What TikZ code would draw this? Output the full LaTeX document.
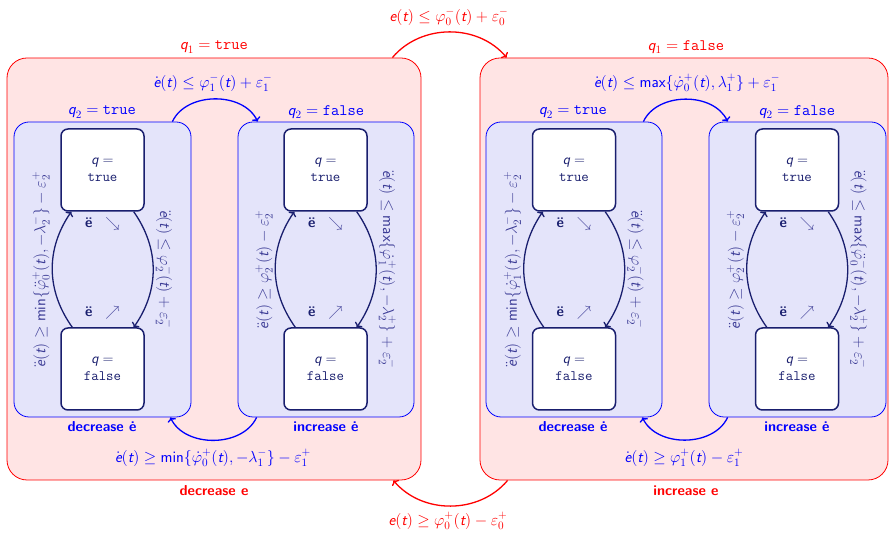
\RequirePackage{fix-cm}
\documentclass[tikz,border=0pt]{standalone}
\usepackage{amsmath,amssymb}
\usepackage{fontspec}
\usetikzlibrary{arrows.meta}
\definecolor{navy}{RGB}{25,30,110}
\definecolor{navyl}{RGB}{60,60,150}
\definecolor{outerfill}{RGB}{255,228,228}
\definecolor{innerfill}{RGB}{228,228,250}
\newcommand\me{\mbox{\sffamily\itshape e}}
\newcommand\mt{\mbox{\sffamily\itshape t}}
\newcommand\mq{\mbox{\sffamily\itshape q}}
\newcommand\smin{\mbox{\sffamily min}}
\newcommand\smax{\mbox{\sffamily max}}
\tikzset{
  every node/.style={font=\fontsize{16}{19}\selectfont\sffamily},
  outerbox/.style={draw=red, line width=0.8pt, fill=outerfill, rounded corners=20pt, minimum height=422pt, inner sep=0pt},
  innerbox/.style={draw=blue, line width=0.8pt, fill=innerfill, rounded corners=15pt, minimum width=176pt, minimum height=295pt, inner sep=0pt},
  statebox/.style={draw=navy, line width=1.5pt, fill=white, rounded corners=7pt, minimum width=83pt, minimum height=82pt, inner sep=0pt, align=center, text=navy, font=\fontsize{14.4}{17}\selectfont\sffamily},
  redarr/.style={draw=red, line width=1.3pt, -{To[length=4pt,width=9pt]}},
  bluearr/.style={draw=blue, line width=1.3pt, -{To[length=4pt,width=9pt]}},
  navyarr/.style={draw=navy, line width=1.3pt, -{To[length=4pt,width=9pt]}},
  rotL/.style={text=navyl, midway, rotate=90, anchor=south, inner sep=2pt},
  rotR/.style={text=navyl, midway, rotate=-90, anchor=south, inner sep=2pt},
  boldlab/.style={font=\fontsize{14.4}{17}\selectfont\sffamily\bfseries},
  eddlab/.style={text=navy, font=\fontsize{14.4}{17}\selectfont\sffamily},
}
\begin{document}
\begin{tikzpicture}[x=1pt,y=1pt]
\useasboundingbox (0,0) rectangle (890,534);
% outer boxes
\node[outerbox, minimum width=414pt] (L) at (214,265) {};
\node[outerbox, minimum width=408pt] (R) at (684,265) {};
% inner boxes
\node[innerbox, minimum width=177pt] (LL) at (102.5,264.5) {};
\node[innerbox] (LR) at (326,264.5) {};
\node[innerbox] (RL) at (574,264.5) {};
\node[innerbox, minimum width=177pt] (RR) at (797.5,264.5) {};
% states
\node[statebox] (LLt) at (102.5,364) {$\mq =$\\\texttt{true}};
\node[statebox] (LLb) at (102.5,165) {$\mq =$\\\texttt{false}};
\node[statebox] (LRt) at (325.5,364) {$\mq =$\\\texttt{true}};
\node[statebox] (LRb) at (325.5,165) {$\mq =$\\\texttt{false}};
\node[statebox] (RLt) at (574,364) {$\mq =$\\\texttt{true}};
\node[statebox] (RLb) at (574,165) {$\mq =$\\\texttt{false}};
\node[statebox] (RRt) at (797,364) {$\mq =$\\\texttt{true}};
\node[statebox] (RRb) at (797,165) {$\mq =$\\\texttt{false}};
% ddot e labels
\foreach \n/\x in {a/102.5,b/325.5,c/574,d/797}{
  \node[eddlab] (up\n) at (\x,310) {{\bfseries ë}\hspace{0.9em}{\color{navyl}$\searrow$}};
  \node[eddlab] (dn\n) at (\x,221) {{\bfseries ë}\hspace{0.9em}{\color{navyl}$\nearrow$}};
}
% outer labels
\node[text=red] (q1L) at (214,487) {$\mq_1 = \texttt{true}$};
\node[text=red] (q1R) at (686,487) {$\mq_1 = \texttt{false}$};
\node[text=red, boldlab] (decE) at (214,43) {decrease e};
\node[text=red, boldlab] (incE) at (686,43) {increase e};
\node[text=red] (redtop) at (449,517) {$\me(\mt) \le \varphi_0^-(\mt) + \varepsilon_0^-$};
\node[text=red] (redbot) at (448,13) {$\me(\mt) \ge \varphi_0^+(\mt) - \varepsilon_0^+$};
% blue labels
\node[text=blue] (eLt) at (213,451) {$\dot{\me}(\mt) \le \varphi_1^-(\mt) + \varepsilon_1^-$};
\node[text=blue] (eRt) at (687,451) {$\dot{\me}(\mt) \le \smax\{\dot{\varphi}_0^+(\mt), \lambda_1^+\} + \varepsilon_1^-$};
\node[text=blue] (eLb) at (213,76) {$\dot{\me}(\mt) \ge \smin\{\dot{\varphi}_0^+(\mt), -\lambda_1^-\} - \varepsilon_1^+$};
\node[text=blue] (eRb) at (684,76) {$\dot{\me}(\mt) \ge \varphi_1^+(\mt) - \varepsilon_1^+$};
\node[text=blue] (q2LL) at (102,422) {$\mq_2 = \texttt{true}$};
\node[text=blue] (q2LR) at (326,422) {$\mq_2 = \texttt{false}$};
\node[text=blue] (q2RL) at (573,422) {$\mq_2 = \texttt{true}$};
\node[text=blue] (q2RR) at (797,422) {$\mq_2 = \texttt{false}$};
\node[text=blue, boldlab] (dLL) at (102,107) {decrease ė};
\node[text=blue, boldlab] (iLR) at (326,107) {increase ė};
\node[text=blue, boldlab] (dRL) at (573,107) {decrease ė};
\node[text=blue, boldlab] (iRR) at (797,107) {increase ė};
% red arrows
\draw[redarr] ([xshift=-29pt]L.north east) to[bend left=50] ([xshift=27pt]R.north west);
\draw[redarr] ([xshift=28pt]R.south west) to[bend left=50] ([xshift=-28pt]L.south east);
% blue arrows
\draw[bluearr] ([xshift=-19pt]LL.north east) to[bend left=65] ([xshift=20pt]LR.north west);
\draw[bluearr] ([xshift=19pt]LR.south west) to[bend left=65] ([xshift=-21pt]LL.south east);
\draw[bluearr] ([xshift=-19pt]RL.north east) to[bend left=65] ([xshift=19pt]RR.north west);
\draw[bluearr] ([xshift=19pt]RR.south west) to[bend left=65] ([xshift=-20pt]RL.south east);
% navy arrows
\draw[navyarr] ([xshift=12pt]LLb.north west) to[bend left=35]
  node[rotL] {$\ddot{\me}(\mt) \ge \smin\{\ddot{\varphi}_0^+(\mt), -\lambda_2^-\} - \varepsilon_2^+$} ([xshift=11pt]LLt.south west);
\draw[navyarr] ([xshift=-11pt]LLt.south east) to[bend left=35]
  node[rotR] {$\ddot{\me}(\mt) \le \varphi_2^-(\mt) + \varepsilon_2^-$} ([xshift=-11pt]LLb.north east);
\draw[navyarr] ([xshift=12pt]LRb.north west) to[bend left=35]
  node[rotL] {$\ddot{\me}(\mt) \ge \varphi_2^+(\mt) - \varepsilon_2^+$} ([xshift=11pt]LRt.south west);
\draw[navyarr] ([xshift=-11pt]LRt.south east) to[bend left=35]
  node[rotR] {$\ddot{\me}(\mt) \le \smax\{\dot{\varphi}_1^+(\mt), -\lambda_2^+\} + \varepsilon_2^-$} ([xshift=-11pt]LRb.north east);
\draw[navyarr] ([xshift=12pt]RLb.north west) to[bend left=35]
  node[rotL] {$\ddot{\me}(\mt) \ge \smin\{\dot{\varphi}_1^+(\mt), -\lambda_2^-\} - \varepsilon_2^+$} ([xshift=11pt]RLt.south west);
\draw[navyarr] ([xshift=-11pt]RLt.south east) to[bend left=35]
  node[rotR] {$\ddot{\me}(\mt) \le \varphi_2^-(\mt) + \varepsilon_2^-$} ([xshift=-11pt]RLb.north east);
\draw[navyarr] ([xshift=12pt]RRb.north west) to[bend left=35]
  node[rotL] {$\ddot{\me}(\mt) \ge \varphi_2^+(\mt) - \varepsilon_2^+$} ([xshift=11pt]RRt.south west);
\draw[navyarr] ([xshift=-11pt]RRt.south east) to[bend left=35]
  node[rotR] {$\ddot{\me}(\mt) \le \smax\{\ddot{\varphi}_0^-(\mt), -\lambda_2^+\} + \varepsilon_2^-$} ([xshift=-11pt]RRb.north east);
\end{tikzpicture}
\end{document}
